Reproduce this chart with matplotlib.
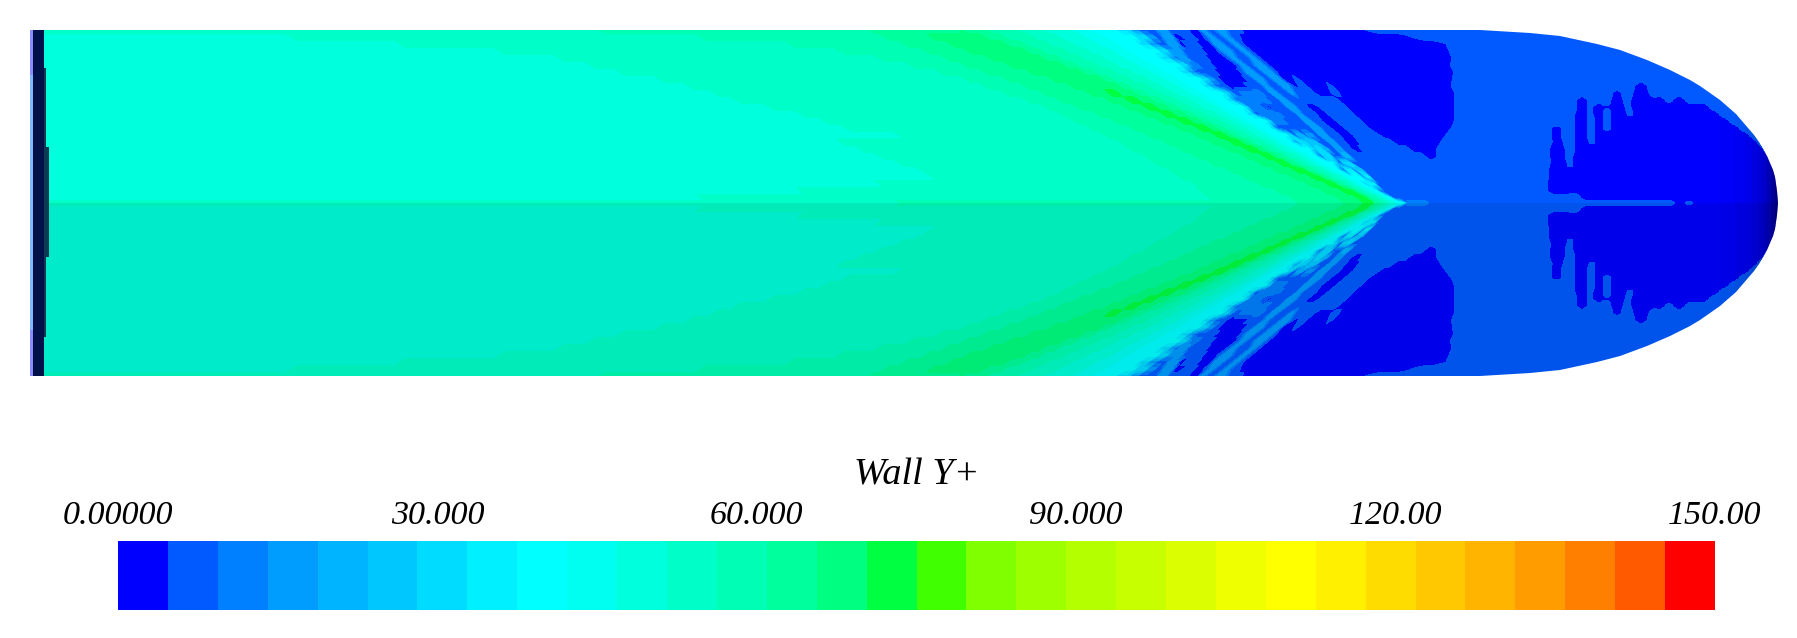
import numpy as np
import matplotlib
matplotlib.use("Agg")
import matplotlib.pyplot as plt
from matplotlib.colors import LinearSegmentedColormap, ListedColormap, to_rgb
from matplotlib.patches import PathPatch
from matplotlib.path import Path

# 32 bands of the legend
band_colors = [
    "#0000FF", "#005AFF", "#0080FF", "#009DFF", "#00B4FF", "#00C8FF", "#00DCFF", "#00F0FF",
    "#00FFFF", "#00FFF0", "#00FFDC", "#00FFC8", "#00FFB4", "#00FF9D", "#00FF80", "#00FF40",
    "#40FF00", "#80FF00", "#9DFF00", "#B4FF00", "#C8FF00", "#DCFF00", "#F0FF00", "#FFFF00",
    "#FFF000", "#FFDC00", "#FFC800", "#FFB400", "#FF9D00", "#FF8000", "#FF5A00", "#FF0000",
]
tick_values = [0, 30, 60, 90, 120, 150]
tick_labels = ["0.00000", "30.000", "60.000", "90.000", "120.00", "150.00"]
y_max = 150
lower_half_dim = 0.92

# stations across the upper half of the body, wall to centre line
row_y = [30, 37, 44, 51, 58, 65, 72, 79, 86, 93, 100, 107, 114, 121, 128, 135, 142, 149, 156, 163,
         170, 177, 184, 191, 198, 203]

# where each band ends along every row, left to right
band_order = [10, 11, 12, 13, 14, 15, 14, 13, 12, 11, 10, 9, 8, 6, 3, 1]
up_10_11 = [36, 290, 400, 500, 560, 590, 620, 660, 690, 715, 735, 770, 800, 825, 845, 900, 840, 860, 880, 900, 920, 932, 880, 800, 700, 36]
up_11_12 = [600, 700, 790, 840, 880, 910, 940, 965, 985, 1005, 1025, 1045, 1060, 1075, 1090, 1105, 1120, 1130, 1145, 1155, 1170, 1180, 1195, 1200, 1210, 900]
up_12_13 = [870, 885, 905, 925, 945, 965, 985, 1005, 1025, 1042, 1060, 1078, 1096, 1114, 1131, 1148, 1164, 1180, 1196, 1212, 1228, 1244, 1260, 1276, 1292, 1300]
up_13_14 = [960, 930, 950, 968, 989, 1009, 1030, 1051, 1072, 1089, 1107, 1125, 1143, 1161, 1178, 1195, 1211, 1227, 1243, 1259, 1275, 1291, 1307, 1323, 1339, 1345]
up_14_15 = [960, 958, 980, 1001, 1022, 1042, 1063, 1084, 1097, 1109, 1127, 1145, 1163, 1181, 1198, 1215, 1231, 1247, 1263, 1279, 1295, 1311, 1327, 1343, 1359, 1363]
down_15_14 = [960, 958, 980, 1001, 1022, 1042, 1063, 1084, 1097, 1119, 1137, 1155, 1173, 1191, 1208, 1225, 1240, 1256, 1272, 1288, 1304, 1320, 1336, 1352, 1367, 1373]
down_14_13 = [961, 985, 1006, 1025, 1044, 1062, 1082, 1102, 1120, 1135, 1151, 1168, 1184, 1200, 1216, 1232, 1247, 1262, 1277, 1292, 1307, 1323, 1338, 1354, 1369, 1376]
down_13_12 = [988, 1005, 1024, 1041, 1059, 1076, 1094, 1112, 1130, 1145, 1161, 1177, 1192, 1208, 1223, 1238, 1253, 1268, 1283, 1297, 1312, 1327, 1342, 1357, 1372, 1380]
down_12_11 = [1017, 1033, 1049, 1066, 1082, 1097, 1114, 1130, 1147, 1161, 1175, 1190, 1205, 1220, 1234, 1248, 1262, 1276, 1290, 1304, 1318, 1332, 1347, 1361, 1376, 1386]
down_11_10 = [1044, 1058, 1073, 1088, 1103, 1117, 1132, 1147, 1162, 1175, 1189, 1202, 1216, 1230, 1243, 1256, 1270, 1283, 1297, 1310, 1324, 1337, 1351, 1365, 1380, 1390]
down_10_9 = [1071, 1084, 1097, 1111, 1124, 1137, 1150, 1164, 1177, 1189, 1202, 1215, 1227, 1240, 1253, 1265, 1277, 1290, 1303, 1316, 1329, 1343, 1356, 1369, 1384, 1395]
down_9_8 = [1091, 1104, 1116, 1128, 1140, 1152, 1164, 1177, 1189, 1201, 1212, 1224, 1236, 1248, 1260, 1271, 1284, 1296, 1309, 1321, 1334, 1346, 1359, 1372, 1387, 1399]
# the front itself is saw-toothed, every other row reaches further
down_8_6 = [1116, 1135, 1138, 1157, 1160, 1178, 1181, 1200, 1203, 1222, 1225, 1244, 1246, 1266, 1269, 1287, 1291, 1310, 1315, 1334, 1339, 1359, 1364, 1376, 1390, 1403]
down_6_3 = [1129, 1147, 1149, 1167, 1170, 1187, 1189, 1208, 1210, 1229, 1231, 1249, 1252, 1271, 1273, 1291, 1295, 1314, 1318, 1337, 1341, 1361, 1366, 1378, 1392, 1406]
down_3_1 = [1137, 1155, 1156, 1174, 1176, 1193, 1195, 1213, 1215, 1233, 1235, 1253, 1255, 1274, 1276, 1294, 1297, 1316, 1320, 1339, 1343, 1363, 1367, 1379, 1393, 1407]

# low y+ pockets and streaks behind the front: (row, from, to, band)
front_teeth = [
    (30, 1158, 1168, 3), (37, 1162, 1172, 3), (37, 1175, 1182, 0), (44, 1168, 1178, 3), (44, 1178, 1185, 0),
    (51, 1174, 1182, 3), (58, 1180, 1188, 3), (65, 1190, 1198, 2),
    (93, 1240, 1262, 2), (100, 1240, 1268, 2), (107, 1248, 1262, 2), (114, 1260, 1280, 2), (121, 1270, 1285, 2),
    (135, 1298, 1304, 4), (142, 1298, 1306, 6), (135, 1308, 1314, 3), (142, 1308, 1316, 5), (149, 1316, 1322, 6),
    (149, 1322, 1328, 4), (156, 1324, 1332, 6), (156, 1343, 1349, 4), (163, 1344, 1351, 6), (170, 1347, 1353, 7),
    (170, 1357, 1362, 5), (177, 1365, 1370, 7), (184, 1368, 1376, 7),
    (203, 1410, 1430, 2),
]
dark_strip_a = [
    (30, 1190, 1198, 0), (37, 1195, 1206, 0), (44, 1199, 1213, 0), (51, 1203, 1219, 0), (58, 1208, 1228, 0),
    (65, 1212, 1235, 0), (72, 1216, 1241, 0), (79, 1220, 1245, 0), (86, 1227, 1247, 0), (107, 1267, 1272, 0),
]
dark_strip_b = [
    (107, 1307, 1320, 0), (114, 1317, 1328, 0), (121, 1323, 1337, 0), (128, 1332, 1345, 0),
    (135, 1340, 1352, 0), (142, 1347, 1358, 0), (149, 1353, 1362, 0),
]
streak_a = [
    (30, 1199, 1206, 3), (37, 1207, 1214, 3), (44, 1215, 1222, 3), (51, 1223, 1230, 3), (58, 1231, 1238, 3),
    (65, 1239, 1246, 3), (72, 1247, 1254, 3), (79, 1255, 1262, 3), (86, 1263, 1270, 3), (93, 1271, 1278, 3),
    (100, 1279, 1286, 3), (107, 1288, 1295, 3), (114, 1296, 1303, 3), (121, 1304, 1311, 3), (128, 1312, 1319, 3),
    (135, 1320, 1327, 3), (142, 1328, 1335, 3), (149, 1336, 1343, 3),
]
streak_b = [
    (30, 1217, 1224, 3), (37, 1225, 1232, 3), (44, 1233, 1240, 3), (51, 1241, 1248, 3), (58, 1249, 1256, 3),
    (65, 1257, 1264, 3), (72, 1265, 1272, 3), (79, 1273, 1280, 3), (86, 1281, 1288, 3), (93, 1289, 1296, 3),
]
dark_main = [
    (30, 1240, 1365, 0), (37, 1240, 1413, 0), (44, 1245, 1445, 0), (51, 1252, 1448, 0), (58, 1260, 1450, 0),
    (65, 1268, 1451, 0), (72, 1275, 1452, 0), (79, 1282, 1296, 0), (79, 1300, 1452, 0), (86, 1292, 1300, 0),
    (86, 1308, 1328, 0), (86, 1333, 1453, 0), (93, 1315, 1330, 0), (93, 1340, 1453, 0), (100, 1340, 1453, 0),
    (107, 1345, 1453, 0), (114, 1352, 1453, 0), (121, 1360, 1453, 0), (128, 1368, 1450, 0), (135, 1378, 1446, 0),
    (142, 1393, 1442, 0), (149, 1410, 1438, 0), (156, 1425, 1436, 0),
]
nose_spike = [
    (128, 1553, 1561, 0), (135, 1552, 1562, 0), (142, 1551, 1563, 0), (149, 1550, 1565, 0), (156, 1549, 1566, 0),
    (163, 1549, 1568, 0), (170, 1548, 1569, 0), (177, 1548, 1570, 0), (184, 1548, 1572, 0), (191, 1548, 1574, 0),
]
nose_mass = [
    (86, 1636, 1648, 0), (93, 1634, 1649, 0), (93, 1613, 1621, 0),
    (100, 1577, 1587, 0), (100, 1611, 1623, 0), (100, 1632, 1651, 0), (100, 1654, 1666, 0), (100, 1674, 1686, 0),
    (107, 1577, 1588, 0), (107, 1594, 1605, 0), (107, 1610, 1625, 0), (107, 1631, 1710, 0),
    (114, 1576, 1588, 0), (114, 1594, 1604, 0), (114, 1612, 1627, 0), (114, 1633, 1720, 0),
    (121, 1576, 1588, 0), (121, 1596, 1604, 0), (121, 1612, 1730, 0),
    (128, 1576, 1588, 0), (128, 1596, 1604, 0), (128, 1612, 1740, 0),
    (135, 1576, 1588, 0), (135, 1596, 1750, 0), (142, 1575, 1589, 0), (142, 1596, 1757, 0),
    (149, 1575, 1764, 0), (156, 1574, 1769, 0), (163, 1574, 1774, 0), (170, 1574, 1800, 0), (177, 1574, 1800, 0),
    (184, 1574, 1800, 0), (191, 1575, 1800, 0), (198, 1582, 1800, 0), (203, 1675, 1686, 0), (203, 1694, 1800, 0),
]

# body outline, half height against x
outline_x = [30, 1480, 1530, 1560, 1597, 1620, 1647, 1670, 1690, 1700, 1710, 1720, 1728, 1736, 1742, 1748, 1754,
             1759, 1763, 1767, 1770, 1773, 1775, 1776, 1777, 1778]
outline_half = [173, 173, 170, 167, 159, 153, 143, 133, 123, 117, 110, 103, 96, 89, 82, 75, 68,
                61, 54, 47, 40, 33, 26, 19, 12, 0]

# darkening towards the nose tip
shade_x = [1700, 1720, 1735, 1745, 1752, 1758, 1763, 1767, 1771, 1775, 1780]
shade_alpha = [0, 0.02, 0.05, 0.08, 0.12, 0.17, 0.22, 0.3, 0.4, 0.5]

# cap at the left end
wall_y = [30, 68, 147, 257, 337, 376]
wall_right = [44, 46, 49, 46, 44, 44]

center_y = 203
band_edges = [up_10_11, up_11_12, up_12_13, up_13_14, up_14_15, down_15_14, down_14_13, down_13_12,
              down_12_11, down_11_10, down_10_9, down_9_8, down_8_6, down_6_3, down_3_1]


def build_field():
    # columns lean with the front so the slanted streaks join from row to row
    u = np.arange(36, 1815, 2.0)
    lean = 1.35 * np.clip((1560 - u) / 140, 0, 1)
    ys = np.array(row_y, dtype=float)
    X = u[None, :] + (ys[:, None] - center_y) * lean[None, :]
    Y = np.repeat(ys[:, None], len(u), axis=1)
    edges = np.array(band_edges).T
    order = np.array(band_order)
    bands = np.zeros(X.shape)
    for r in range(len(row_y)):
        bands[r] = order[np.searchsorted(edges[r], X[r], side="right")]
    for runs in [front_teeth, dark_strip_a, dark_strip_b, streak_a, streak_b, dark_main, nose_spike, nose_mass]:
        for y, x0, x1, band in runs:
            r = row_y.index(y)
            bands[r, (X[r] >= x0) & (X[r] < x1)] = band
    # soften the steps of the nose patches along each row
    nose = u > 1470
    for r in range(len(row_y)):
        soft = np.convolve(bands[r], np.ones(5) / 5, mode="same")
        bands[r, nose] = soft[nose]
    Z = (bands + 0.5) * y_max / len(band_colors)
    return X, Y, Z


def main():
    fig = plt.figure(figsize=(17.97, 6.38), dpi=100)
    ax = fig.add_axes([0, 0, 1, 1])
    ax.set_xlim(0, 1797)
    ax.set_ylim(638, 0)
    ax.axis("off")

    outline_top = center_y - np.array(outline_half)
    outline_bot = center_y + np.array(outline_half)
    verts = list(zip(outline_x, outline_top)) + list(zip(outline_x[::-1], outline_bot[::-1]))
    body = PathPatch(Path(verts + [verts[0]]), transform=ax.transData)

    X, Y, Z = build_field()
    levels = np.linspace(0, y_max, len(band_colors) + 1)
    dim_colors = [tuple(c * lower_half_dim for c in to_rgb(h)) for h in band_colors]
    upper = ax.contourf(X, Y, Z, levels=levels, colors=band_colors)
    lower = ax.contourf(X, 2 * center_y - Y, Z, levels=levels, colors=dim_colors)
    upper.set_clip_path(body)
    lower.set_clip_path(body)

    shade = LinearSegmentedColormap.from_list("shade", [(0, 0, 0, 0), (0, 0, 0, 1)])
    tip = ax.pcolormesh(shade_x, [30, 376], [shade_alpha], cmap=shade, vmin=0, vmax=1)
    tip.set_clip_path(body)

    ax.fill_betweenx(wall_y, 33, wall_right, step="post", color="#0c3a52", lw=0)
    ax.fill_betweenx([30, 376], 33, 44, color="#001048", lw=0)
    ax.fill_betweenx([30, 376], 30, 33, color="#8a8aff", lw=0)
    ax.fill_betweenx([75, 330], 30, 33, color="#80b8ff", lw=0)

    # legend bar
    cax = fig.add_axes([118 / 1797, 1 - 610 / 638, 1597 / 1797, 69 / 638])
    bar_edges = np.linspace(0, y_max, len(band_colors) + 1)
    cax.pcolormesh(bar_edges, [0, 1], [np.arange(len(band_colors))],
                   cmap=ListedColormap(band_colors), vmin=-0.5, vmax=len(band_colors) - 0.5)
    cax.set_xlim(0, y_max)
    cax.set_yticks([])
    cax.xaxis.tick_top()
    cax.set_xticks(tick_values, tick_labels, family="Liberation Serif", style="italic", fontsize=24.5)
    cax.tick_params(axis="x", length=0, pad=7)
    for s in cax.spines.values():
        s.set_visible(False)
    cax.set_title("Wall Y+", family="Liberation Serif", style="italic", fontsize=27.5, pad=41)

    fig.savefig("out.png", dpi=100)


if __name__ == "__main__":
    main()
